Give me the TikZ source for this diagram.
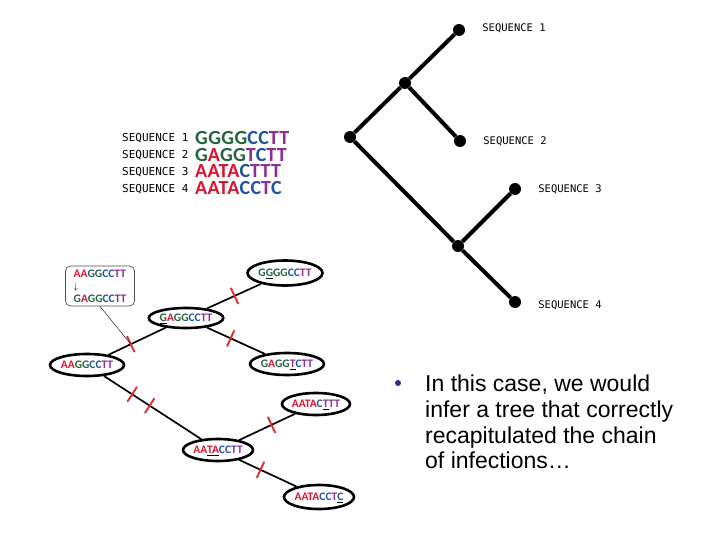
\documentclass[tikz,border=0pt]{standalone}
\usepackage{fontspec}
\setmainfont{Liberation Sans}
\newfontfamily\tagfont{DejaVu Sans Mono}
\newfontfamily\ntfont{Carlito}
\newfontfamily\ntwide[LetterSpace=2]{Carlito}
\usepackage{xcolor}
\usepackage{tikz}
\usetikzlibrary{shapes.geometric, positioning}
\definecolor{ntA}{RGB}{220, 20, 45}
\definecolor{ntC}{RGB}{30, 85, 160}
\definecolor{ntG}{RGB}{35, 100, 60}
\definecolor{ntT}{RGB}{140, 45, 150}
\definecolor{mutred}{RGB}{225, 45, 45}
\definecolor{bulletblue}{RGB}{45, 45, 150}
\newcommand{\nA}[1]{\textcolor{ntA}{#1}}
\newcommand{\nC}[1]{\textcolor{ntC}{#1}}
\newcommand{\nG}[1]{\textcolor{ntG}{#1}}
\newcommand{\nT}[1]{\textcolor{ntT}{#1}}
\newcommand{\mutsite}[1]{\underline{#1}}

\begin{document}
\begin{tikzpicture}[
		x=1pt, y=-1pt,
		dot/.style={circle, fill=black, minimum size=12pt, inner sep=0pt},
		branch/.style={line width=4pt},
		leafname/.style={font=\tagfont\fontsize{10.5}{12}\selectfont, inner sep=0pt},
		rowname/.style={font=\tagfont\fontsize{11}{17}\selectfont, inner sep=0pt, anchor=north west, align=left},
		rowseq/.style={font=\ntwide\bfseries\fontsize{20}{16.7}\selectfont, inner sep=0pt, anchor=north west, align=left},
		host/.style={ellipse, draw, line width=2.6pt, inner sep=0pt, minimum width=70pt, minimum height=22pt, text height=7.4pt, text depth=0pt, font=\ntfont\bfseries\fontsize{11.5}{12}\selectfont},
		link/.style={line width=1.7pt},
		tick/.style={sloped, inner sep=0pt, minimum width=0pt, minimum height=16pt},
		mut/.style={draw=mutred, line width=1.9pt}
	]
	\useasboundingbox (0,0) rectangle (720,540);

	% aligned sequences
	\node[rowname] (names) at (122,133) {SEQUENCE 1\\SEQUENCE 2\\SEQUENCE 3\\SEQUENCE 4};
	\node[rowseq] (alignment) at (195,131) {\nG{GGGG}\nC{CC}\nT{TT}\\\nG{G}\nA{A}\nG{GG}\nT{T}\nC{C}\nT{TT}\\\nA{AATA}\nC{C}\nT{TTT}\\\nA{AATA}\nC{CC}\nT{T}\nC{C}};

	% inferred tree
	\node[dot] (root) at (350,137) {};
	\node[dot] (upper) at (405,83) {};
	\node[dot] (lower) at (458,246) {};
	\node[dot] (leaf1) at (459,30) {};
	\node[dot] (leaf2) at (460,141) {};
	\node[dot] (leaf3) at (515,189) {};
	\node[dot] (leaf4) at (515,302) {};
	\draw[branch] (root) -- (upper) -- (leaf1);
	\draw[branch] (upper) -- (leaf2);
	\draw[branch] (root) -- (lower) -- (leaf4);
	\draw[branch] (lower) -- (leaf3);
	\foreach \i/\dy in {1/2, 2/0, 3/0, 4/-3}
		\node[leafname, right=17pt of leaf\i, yshift=\dy pt] (lab\i) {SEQUENCE \i};

	% chain of infections
	\node[host] (aagg) at (87,365) {\nA{AA}\nG{GG}\nC{CC}\nT{TT}};
	\node[host, minimum width=72pt, minimum height=20pt] (gagg) at (186,318) {\mutsite{\nG{G}}\nA{A}\nG{GG}\nC{CC}\nT{TT}};
	\node[host, minimum height=25pt] (gggg) at (285,273) {\nG{G}\mutsite{\nG{G}}\nG{GG}\nC{CC}\nT{TT}};
	\node[host] (gaggt) at (287,364) {\nG{G}\nA{A}\nG{GG}\mutsite{\nT{T}}\nC{C}\nT{TT}};
	\node[host] (aatacctt) at (218,450) {\nA{AA}\mutsite{\nA{TA}}\nC{CC}\nT{TT}};
	\node[host, minimum width=66pt] (aatacttt) at (316,404) {\nA{AATA}\nC{C}\mutsite{\nT{T}}\nT{TT}};
	\node[host, minimum height=24pt] (aatacctc) at (319,497) {\nA{AATA}\nC{CC}\nT{T}\mutsite{\nC{C}}};

	\node[draw=black!70, rounded corners=5pt, line width=0.7pt, minimum width=69pt, minimum height=40pt, align=left, font=\ntfont\bfseries\fontsize{11.5}{12.5}\selectfont] (change) at (100,286) {\nA{AA}\nG{GG}\nC{CC}\nT{TT}\\{\fontsize{9}{9}\selectfont$\downarrow$}\\\nG{G}\nA{A}\nG{GG}\nC{CC}\nT{TT}};

	\draw[link] (aagg) -- (gagg) node[tick, pos=0.39] (m1) {};
	\draw[link] (gagg) -- (gggg) node[tick, pos=0.51] (m2) {};
	\draw[link] (gagg) -- (gaggt) node[tick, pos=0.41] (m3) {};
	\draw[link] (aagg) -- (aatacctt) node[tick, pos=0.29] (m4) {} node[tick, pos=0.47] (m5) {};
	\draw[link] (aatacctt) -- (aatacttt) node[tick, pos=0.58] (m6) {};
	\draw[link] (aatacctt) -- (aatacctc) node[tick, pos=0.37] (m7) {};
	\foreach \m in {1,...,7}
		\draw[mut] (m\m.north) -- (m\m.south);
	\draw[thin] (change.south) -- (m1.center);

	% bullet text
	\node[circle, fill=bulletblue, minimum size=6pt, inner sep=0pt] (bullet) at (398,383) {};
	\node[anchor=north west, align=left, inner sep=0pt, font=\fontsize{23}{25.7}\selectfont] (remark) at (425,375) {In this case, we would\\infer a tree that correctly\\recapitulated the chain\\of infections…};

\end{tikzpicture}
\end{document}
